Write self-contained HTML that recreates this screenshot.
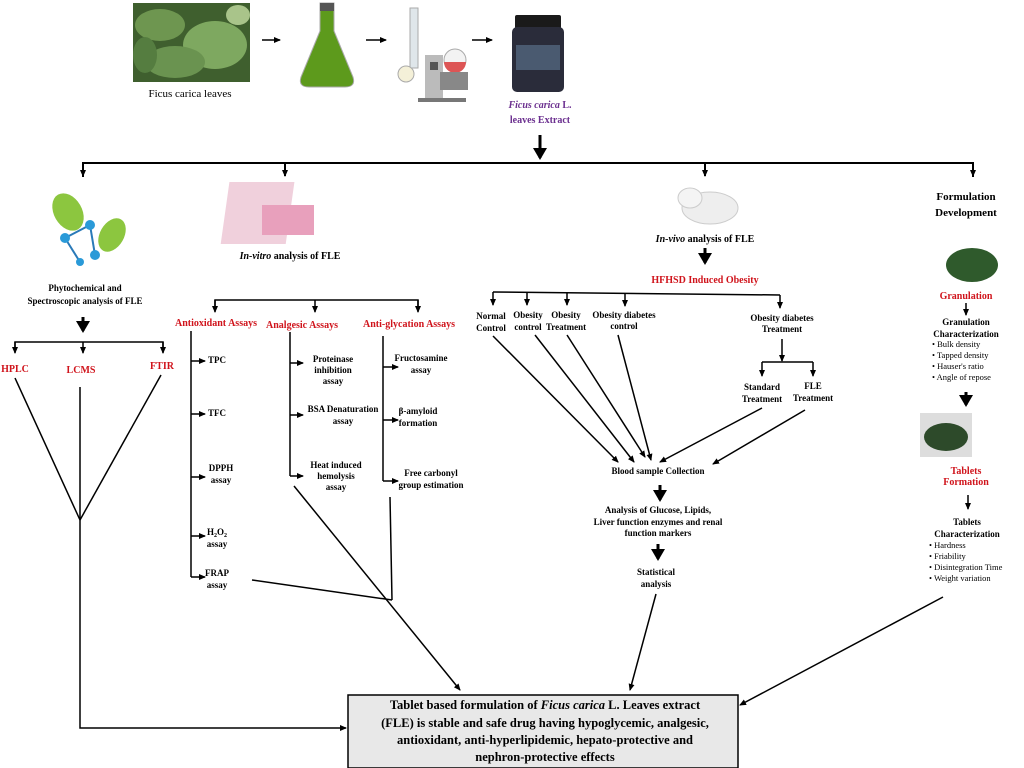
<!DOCTYPE html>
<html><head><meta charset="utf-8"><style>
html,body{margin:0;padding:0;background:#fff;}
svg{display:block;font-family:"Liberation Serif",serif;}
.b{font-weight:bold;font-size:9px;fill:#000;}
.r{font-weight:bold;font-size:10px;fill:#d0141c;}
.n{font-size:8.5px;fill:#000;}
</style></head><body>
<svg width="1024" height="768" viewBox="0 0 1024 768" xmlns="http://www.w3.org/2000/svg">
<defs>
<marker id="a" markerWidth="8" markerHeight="8" refX="6" refY="4" orient="auto" markerUnits="userSpaceOnUse"><path d="M0,1 L7,4 L0,7 Z" fill="#000"/></marker>
<marker id="A" markerWidth="14" markerHeight="14" refX="10" refY="7" orient="auto" markerUnits="userSpaceOnUse"><path d="M0,0 L12,7 L0,14 Z" fill="#000"/></marker>
</defs>
<!-- top images -->
<rect x="133" y="3" width="117" height="79" fill="#3f5f2e"/>
<ellipse cx="160" cy="25" rx="25" ry="16" fill="#6e9650"/>
<ellipse cx="215" cy="45" rx="32" ry="24" fill="#7ea860"/>
<ellipse cx="175" cy="62" rx="30" ry="16" fill="#6a9350"/>
<ellipse cx="145" cy="55" rx="12" ry="18" fill="#557d40"/>
<ellipse cx="238" cy="15" rx="12" ry="10" fill="#a9c48a"/>
<text x="190" y="97" font-size="11" text-anchor="middle" font-family="Liberation Serif">Ficus carica leaves</text>
<path d="M320,3 h14 v28 l19,46 q3,10 -8,10 h-36 q-11,0 -8,-10 l19,-46 z" fill="#5d9a1c" stroke="#aaa"/>
<rect x="320" y="3" width="14" height="8" fill="#555"/>
<rect x="410" y="8" width="8" height="60" fill="#dfe6ea" stroke="#aaa"/>
<circle cx="406" cy="74" r="8" fill="#f4f0d8" stroke="#aaa"/>
<rect x="425" y="55" width="18" height="45" fill="#bbb"/>
<rect x="430" y="62" width="8" height="8" fill="#555"/>
<circle cx="455" cy="60" r="11" fill="#f3f3f3" stroke="#aaa"/>
<path d="M444,62 a11,11 0 0 0 22,0 z" fill="#d55"/>
<rect x="440" y="72" width="28" height="18" fill="#888"/>
<rect x="418" y="98" width="48" height="4" fill="#777"/>
<rect x="515" y="15" width="46" height="14" rx="2" fill="#1a1a1a"/>
<rect x="512" y="27" width="52" height="65" rx="5" fill="#2a2c3a"/>
<rect x="516" y="45" width="44" height="25" fill="#4a5a70"/>
<g stroke="#000" stroke-width="1.5" fill="none">
<line x1="262" y1="40" x2="280" y2="40" marker-end="url(#a)"/>
<line x1="366" y1="40" x2="386" y2="40" marker-end="url(#a)"/>
<line x1="472" y1="40" x2="492" y2="40" marker-end="url(#a)"/>
</g>
<text x="540" y="108" font-size="10" font-style="italic" font-weight="bold" fill="#6b2f8f" text-anchor="middle">Ficus carica <tspan font-style="normal">L.</tspan></text>
<text x="540" y="123" font-size="10" font-weight="bold" fill="#6b2f8f" text-anchor="middle">leaves Extract</text>

<g stroke="#000" stroke-width="2" fill="none">
<line x1="540" y1="135" x2="540" y2="158" stroke-width="3" marker-end="url(#A)"/>
<polyline points="83,177 83,163 973,163 973,177"/>
<line x1="83" y1="163" x2="83" y2="176" marker-end="url(#a)"/>
<line x1="285" y1="163" x2="285" y2="176" marker-end="url(#a)"/>
<line x1="705" y1="163" x2="705" y2="176" marker-end="url(#a)"/>
<line x1="973" y1="163" x2="973" y2="176" marker-end="url(#a)"/>
</g>

<!-- left section -->
<ellipse cx="68" cy="212" rx="14" ry="20" fill="#8cc63f" transform="rotate(-30 68 212)"/>
<ellipse cx="112" cy="235" rx="12" ry="18" fill="#8cc63f" transform="rotate(30 112 235)"/>
<g stroke="#2a7ab8" stroke-width="2"><line x1="65" y1="238" x2="90" y2="225"/><line x1="90" y1="225" x2="95" y2="255"/><line x1="65" y1="238" x2="80" y2="262"/></g>
<g fill="#2a9ad8"><circle cx="65" cy="238" r="5"/><circle cx="90" cy="225" r="5"/><circle cx="95" cy="255" r="5"/><circle cx="80" cy="262" r="4"/></g>
<text x="85" y="291" class="b" text-anchor="middle">Phytochemical and</text>
<text x="85" y="304" class="b" text-anchor="middle">Spectroscopic analysis of FLE</text>
<g stroke="#000" stroke-width="1.5" fill="none">
<line x1="83" y1="317" x2="83" y2="331" stroke-width="3" marker-end="url(#A)"/>
<polyline points="15,352 15,342 163,342 163,352"/>
<line x1="15" y1="342" x2="15" y2="353" marker-end="url(#a)"/>
<line x1="83" y1="342" x2="83" y2="353" marker-end="url(#a)"/>
<line x1="163" y1="342" x2="163" y2="353" marker-end="url(#a)"/>
<line x1="15" y1="378" x2="80" y2="520"/>
<line x1="161" y1="375" x2="80" y2="520"/>
<polyline points="80,387 80,728 346,728" marker-end="url(#a)"/>
</g>
<text x="15" y="372" class="r" text-anchor="middle">HPLC</text>
<text x="81" y="373" class="r" text-anchor="middle">LCMS</text>
<text x="162" y="369" class="r" text-anchor="middle">FTIR</text>

<!-- in vitro -->
<rect x="255" y="182" width="65" height="62" fill="#f0d0dc" transform="skewX(-8)"/>
<g fill="#e8a0bc"><rect x="262" y="205" width="52" height="30"/></g>
<text x="290" y="259" font-size="10" font-weight="bold" text-anchor="middle"><tspan font-style="italic">In-vitro</tspan> analysis of FLE</text>
<g stroke="#000" stroke-width="1.5" fill="none">
<polyline points="215,310 215,300 418,300 418,310"/>
<line x1="215" y1="300" x2="215" y2="312" marker-end="url(#a)"/>
<line x1="315" y1="300" x2="315" y2="312" marker-end="url(#a)"/>
<line x1="418" y1="300" x2="418" y2="312" marker-end="url(#a)"/>
<polyline points="191,331 191,577"/>
<line x1="191" y1="361" x2="205" y2="361" marker-end="url(#a)"/>
<line x1="191" y1="414" x2="205" y2="414" marker-end="url(#a)"/>
<line x1="191" y1="477" x2="205" y2="477" marker-end="url(#a)"/>
<line x1="191" y1="536" x2="205" y2="536" marker-end="url(#a)"/>
<line x1="191" y1="577" x2="205" y2="577" marker-end="url(#a)"/>
<line x1="290" y1="332" x2="290" y2="476"/>
<line x1="290" y1="363" x2="303" y2="363" marker-end="url(#a)"/>
<line x1="290" y1="415" x2="303" y2="415" marker-end="url(#a)"/>
<line x1="290" y1="476" x2="303" y2="476" marker-end="url(#a)"/>
<line x1="383" y1="336" x2="383" y2="481"/>
<line x1="383" y1="367" x2="398" y2="367" marker-end="url(#a)"/>
<line x1="383" y1="420" x2="398" y2="420" marker-end="url(#a)"/>
<line x1="383" y1="481" x2="398" y2="481" marker-end="url(#a)"/>
<line x1="294" y1="486" x2="460" y2="690" marker-end="url(#a)"/>
<line x1="390" y1="497" x2="392" y2="600"/>
<line x1="252" y1="580" x2="392" y2="600"/>
</g>
<text x="216" y="326" class="r" text-anchor="middle">Antioxidant Assays</text>
<text x="302" y="328" class="r" text-anchor="middle">Analgesic Assays</text>
<text x="409" y="327" class="r" text-anchor="middle">Anti-glycation Assays</text>
<text x="208" y="363" class="b">TPC</text>
<text x="208" y="416" class="b">TFC</text>
<text x="221" y="471" class="b" text-anchor="middle">DPPH</text><text x="221" y="483" class="b" text-anchor="middle">assay</text>
<text x="217" y="535" class="b" text-anchor="middle">H<tspan font-size="6" dy="2">2</tspan><tspan dy="-2">O</tspan><tspan font-size="6" dy="2">2</tspan></text><text x="217" y="547" class="b" text-anchor="middle">assay</text>
<text x="217" y="576" class="b" text-anchor="middle">FRAP</text><text x="217" y="588" class="b" text-anchor="middle">assay</text>
<text x="333" y="362" class="b" text-anchor="middle">Proteinase</text><text x="333" y="373" class="b" text-anchor="middle">inhibition</text><text x="333" y="384" class="b" text-anchor="middle">assay</text>
<text x="343" y="412" class="b" text-anchor="middle">BSA Denaturation</text><text x="343" y="424" class="b" text-anchor="middle">assay</text>
<text x="336" y="468" class="b" text-anchor="middle">Heat induced</text><text x="336" y="479" class="b" text-anchor="middle">hemolysis</text><text x="336" y="490" class="b" text-anchor="middle">assay</text>
<text x="421" y="361" class="b" text-anchor="middle">Fructosamine</text><text x="421" y="373" class="b" text-anchor="middle">assay</text>
<text x="418" y="414" class="b" text-anchor="middle">β-amyloid</text><text x="418" y="426" class="b" text-anchor="middle">formation</text>
<text x="431" y="476" class="b" text-anchor="middle">Free carbonyl</text><text x="431" y="488" class="b" text-anchor="middle">group estimation</text>

<!-- in vivo -->
<ellipse cx="710" cy="208" rx="28" ry="16" fill="#eee" stroke="#ccc"/>
<ellipse cx="690" cy="198" rx="12" ry="10" fill="#f4f4f4" stroke="#ccc"/>
<text x="705" y="242" font-size="10" font-weight="bold" text-anchor="middle"><tspan font-style="italic">In-vivo</tspan> analysis of FLE</text>
<text x="705" y="283" class="r" font-size="9" text-anchor="middle">HFHSD Induced Obesity</text>
<g stroke="#000" stroke-width="1.5" fill="none">
<line x1="705" y1="248" x2="705" y2="263" stroke-width="3" marker-end="url(#A)"/>
<polyline points="493,292 780,295"/>
<line x1="493" y1="292" x2="493" y2="305" marker-end="url(#a)"/>
<line x1="527" y1="292" x2="527" y2="305" marker-end="url(#a)"/>
<line x1="567" y1="293" x2="567" y2="305" marker-end="url(#a)"/>
<line x1="625" y1="293" x2="625" y2="306" marker-end="url(#a)"/>
<line x1="780" y1="295" x2="780" y2="308" marker-end="url(#a)"/>
<line x1="782" y1="339" x2="782" y2="361" marker-end="url(#a)"/>
<polyline points="762,362 813,362"/>
<line x1="762" y1="362" x2="762" y2="376" marker-end="url(#a)"/>
<line x1="813" y1="362" x2="813" y2="376" marker-end="url(#a)"/>
<line x1="493" y1="336" x2="618" y2="462" marker-end="url(#a)"/>
<line x1="535" y1="335" x2="634" y2="462" marker-end="url(#a)"/>
<line x1="567" y1="335" x2="645" y2="457" marker-end="url(#a)"/>
<line x1="618" y1="335" x2="651" y2="460" marker-end="url(#a)"/>
<line x1="762" y1="408" x2="660" y2="462" marker-end="url(#a)"/>
<line x1="805" y1="410" x2="713" y2="464" marker-end="url(#a)"/>
<line x1="660" y1="485" x2="660" y2="500" stroke-width="3" marker-end="url(#A)"/>
<line x1="658" y1="544" x2="658" y2="559" stroke-width="3" marker-end="url(#A)"/>
<line x1="656" y1="594" x2="630" y2="690" marker-end="url(#a)"/>
</g>
<text x="491" y="319" class="b" text-anchor="middle">Normal</text><text x="491" y="331" class="b" text-anchor="middle">Control</text>
<text x="528" y="318" class="b" text-anchor="middle">Obesity</text><text x="528" y="330" class="b" text-anchor="middle">control</text>
<text x="566" y="318" class="b" text-anchor="middle">Obesity</text><text x="566" y="330" class="b" text-anchor="middle">Treatment</text>
<text x="624" y="318" class="b" text-anchor="middle">Obesity diabetes</text><text x="624" y="329" class="b" text-anchor="middle">control</text>
<text x="782" y="321" class="b" text-anchor="middle">Obesity diabetes</text><text x="782" y="332" class="b" text-anchor="middle">Treatment</text>
<text x="762" y="390" class="b" text-anchor="middle">Standard</text><text x="762" y="402" class="b" text-anchor="middle">Treatment</text>
<text x="813" y="389" class="b" text-anchor="middle">FLE</text><text x="813" y="401" class="b" text-anchor="middle">Treatment</text>
<text x="658" y="474" class="b" text-anchor="middle">Blood sample Collection</text>
<text x="658" y="513" class="b" text-anchor="middle">Analysis of Glucose, Lipids,</text>
<text x="658" y="525" class="b" text-anchor="middle">Liver function enzymes and renal</text>
<text x="658" y="536" class="b" text-anchor="middle">function markers</text>
<text x="656" y="575" class="b" text-anchor="middle">Statistical</text><text x="656" y="587" class="b" text-anchor="middle">analysis</text>

<!-- formulation -->
<text x="966" y="200" font-size="11" font-weight="bold" text-anchor="middle">Formulation</text>
<text x="966" y="216" font-size="11" font-weight="bold" text-anchor="middle">Development</text>
<ellipse cx="972" cy="265" rx="26" ry="17" fill="#2f5a2c"/>
<text x="966" y="299" class="r" font-size="9" text-anchor="middle">Granulation</text>
<text x="966" y="325" class="b" text-anchor="middle">Granulation</text><text x="966" y="337" class="b" text-anchor="middle">Characterization</text>
<g class="n"><text x="932" y="347">•  Bulk density</text><text x="932" y="358">•  Tapped density</text><text x="932" y="369">•  Hauser's ratio</text><text x="932" y="380">•  Angle of repose</text></g>
<rect x="920" y="413" width="52" height="44" fill="#ddd"/>
<ellipse cx="946" cy="437" rx="22" ry="14" fill="#2d4a2a"/>
<text x="966" y="474" class="r" font-size="9" text-anchor="middle">Tablets</text><text x="966" y="485" class="r" font-size="9" text-anchor="middle">Formation</text>
<text x="967" y="525" class="b" text-anchor="middle">Tablets</text><text x="967" y="537" class="b" text-anchor="middle">Characterization</text>
<g class="n"><text x="929" y="548">•  Hardness</text><text x="929" y="559">•  Friability</text><text x="929" y="570">•  Disintegration Time</text><text x="929" y="581">•  Weight variation</text></g>
<g stroke="#000" stroke-width="1.5" fill="none">
<line x1="966" y1="303" x2="966" y2="315" marker-end="url(#a)"/>
<line x1="966" y1="392" x2="966" y2="405" stroke-width="3" marker-end="url(#A)"/>
<line x1="968" y1="495" x2="968" y2="509" marker-end="url(#a)"/>
<line x1="943" y1="597" x2="740" y2="705" marker-end="url(#a)"/>
</g>

<!-- bottom box -->
<rect x="348" y="695" width="390" height="73" fill="#e8e8e8" stroke="#000" stroke-width="1.5"/>
<g font-size="12.5" font-weight="bold" text-anchor="middle">
<text x="545" y="709">Tablet based formulation of <tspan font-style="italic">Ficus carica</tspan> L. Leaves extract</text>
<text x="545" y="727">(FLE) is stable and safe drug having hypoglycemic, analgesic,</text>
<text x="545" y="744">antioxidant, anti-hyperlipidemic, hepato-protective and</text>
<text x="545" y="761">nephron-protective effects</text>
</g>
</svg>
</body></html>
